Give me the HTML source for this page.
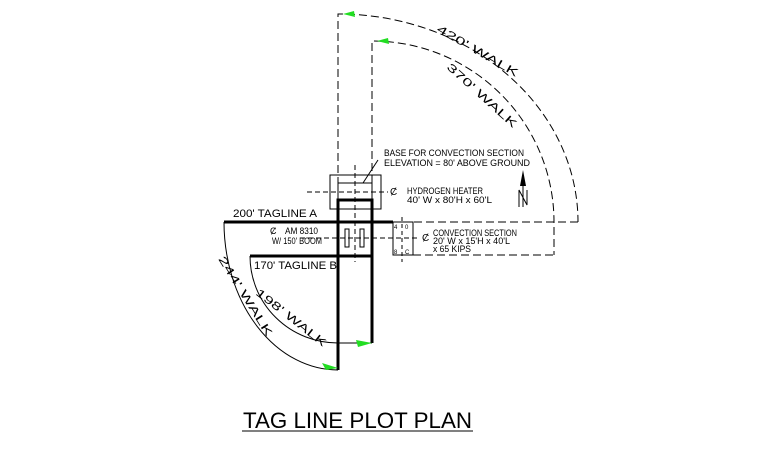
<!DOCTYPE html>
<html><head><style>
html,body{margin:0;padding:0;background:#fff;}
svg{display:block}
text{font-family:"Liberation Sans",sans-serif;fill:#000;}
</style></head><body>
<svg width="778" height="452" viewBox="0 0 778 452" xmlns="http://www.w3.org/2000/svg">
<g fill="none" stroke="#000" stroke-width="1">
  <path d="M338 185 L338 14 A240 208 0 0 1 578 222" stroke-dasharray="8,4"/>
  <path d="M578 222 L413 222" stroke-dasharray="8,4"/>
  <path d="M372 183 L372 41 A182 181 0 0 1 554 222 L554 255" stroke-dasharray="8,4"/>
  <path d="M413 255 L554 255" stroke-dasharray="8,4"/>
  <path d="M355 165 L355 262" stroke-dasharray="5,3"/>
  <path d="M307 192 L388 192" stroke-dasharray="5,3"/>
  <path d="M300 238 L420 238" stroke-dasharray="5,3"/>
  <path d="M402 217 L402 262" stroke-dasharray="4,3"/>
  <rect x="330" y="175" width="51" height="34"/>
  <rect x="338" y="183" width="34" height="26"/>
  <path d="M363 183 L378 160"/>
  <rect x="393" y="222" width="20" height="33"/>
  <rect x="345" y="229" width="4" height="18"/>
  <rect x="360" y="229" width="4" height="18"/>
  <path d="M224 222 A114 148 0 0 0 338 370"/>
  <path d="M250 256 A88 87 0 0 0 338 343 L372 343"/>
</g>
<g fill="none" stroke="#000" stroke-width="3">
  <path d="M338 370 L338 200 L372 200 L372 343"/>
  <path d="M224 222 L393 222"/>
  <path d="M250 256 L372 256"/>
</g>
<g fill="#22dd22">
  <polygon points="338,368 322,363 326,370"/>
  <polygon points="372,343 356,340 358,347"/>
  <polygon points="343,14 354,11 355,17"/>
  <polygon points="377,41 388,38 389,44"/>
</g>
<polygon points="523,170 520,186 526,186" fill="#000"/>
<path d="M523 186 L523 207 M519 207 L519 190 L527 205 L527 190" stroke="#000" fill="none"/>
<g font-size="9">
  <text x="384" y="156" textLength="140" lengthAdjust="spacingAndGlyphs">BASE FOR CONVECTION SECTION</text>
  <text x="384" y="166" textLength="146" lengthAdjust="spacingAndGlyphs">ELEVATION = 80' ABOVE GROUND</text>
  <text x="390" y="195" font-size="10">Ȼ</text>
  <text x="407" y="194" textLength="76" lengthAdjust="spacingAndGlyphs">HYDROGEN HEATER</text>
  <text x="407" y="203" textLength="85" lengthAdjust="spacingAndGlyphs">40' W x 80'H x 60'L</text>
  <text x="422" y="241" font-size="10">Ȼ</text>
  <text x="433" y="236" textLength="84" lengthAdjust="spacingAndGlyphs">CONVECTION SECTION</text>
  <text x="433" y="244" textLength="77" lengthAdjust="spacingAndGlyphs">20' W x 15'H x 40'L</text>
  <text x="433" y="252" textLength="38" lengthAdjust="spacingAndGlyphs">x 65 KIPS</text>
  <text x="270" y="234">Ȼ</text>
  <text x="285" y="234" textLength="33" lengthAdjust="spacingAndGlyphs">AM 8310</text>
  <text x="272" y="244" textLength="50" lengthAdjust="spacingAndGlyphs">W/ 150' BOOM</text>
  <text x="394" y="229" font-size="6">4</text>
  <text x="394" y="254" font-size="6">8</text>
  <text x="405" y="229" font-size="6">0</text>
  <text x="405" y="254" font-size="6">C</text>
</g>
<g font-size="11">
  <text x="233" y="217" textLength="84" lengthAdjust="spacingAndGlyphs">200' TAGLINE A</text>
  <text x="254" y="269" textLength="83" lengthAdjust="spacingAndGlyphs">170' TAGLINE B</text>
</g>
<g font-size="11">
  <text transform="translate(436,31) rotate(30)" textLength="92" lengthAdjust="spacingAndGlyphs">420' WALK</text>
  <text transform="translate(446,68) rotate(42)" textLength="90" lengthAdjust="spacingAndGlyphs">370' WALK</text>
  <text transform="translate(218,259) rotate(58)" textLength="92" lengthAdjust="spacingAndGlyphs">244' WALK</text>
  <text transform="translate(255,294) rotate(38)" textLength="86" lengthAdjust="spacingAndGlyphs">198' WALK</text>
</g>
<text x="243" y="428" font-size="22" textLength="229" lengthAdjust="spacingAndGlyphs">TAG LINE PLOT PLAN</text>
<line x1="242" y1="431" x2="473" y2="431" stroke="#000" stroke-width="1"/>
</svg>
</body></html>
